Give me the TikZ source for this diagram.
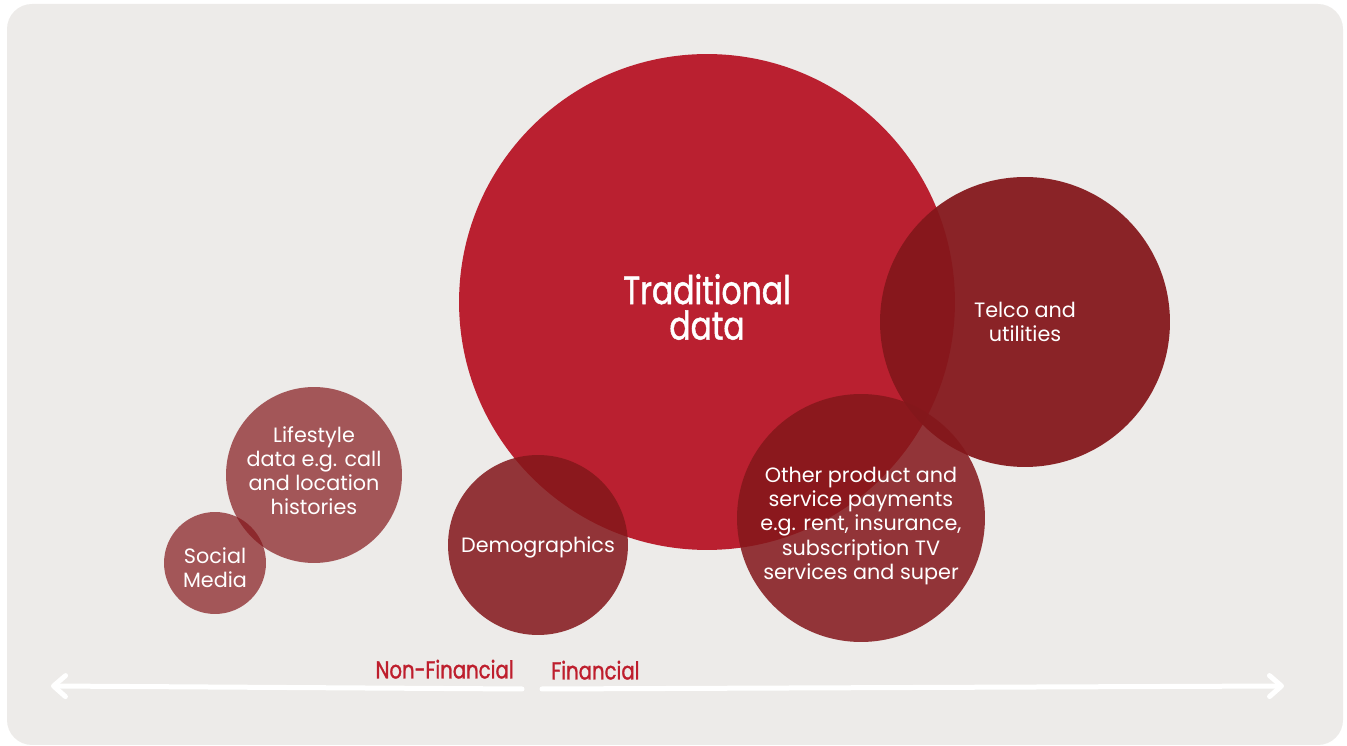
\documentclass[tikz,border=0pt]{standalone}
\usepackage{fontspec}
\setmainfont{Poppins}
\newfontfamily\handfont[FakeStretch=0.8, FakeBold=1.2]{Poppins}
\usetikzlibrary{positioning,arrows.meta}
\definecolor{panelgrey}{HTML}{EDEBE9}
\definecolor{tradred}{HTML}{BA2030}
\definecolor{darkred}{HTML}{84171B}
\definecolor{labelred}{HTML}{BE1E2D}

\begin{document}
\begin{tikzpicture}[
		x=0.02cm, y=-0.02cm,
		bubble/.style={circle, inner sep=0pt, fill=darkred, fill opacity=0.86},
		pale/.style={bubble, fill opacity=0.7},
		caption/.style={inner sep=0pt, text=white, align=center, font=\fontsize{11.8}{13.7}\selectfont},
		axis/.style={white, line width=0.1cm, line cap=round, -{Straight Barb[round, length=0.24cm, width=0.42cm]}},
		side/.style={inner sep=0pt, text=labelred, font=\handfont\fontsize{14}{16}\selectfont},
	]
		\useasboundingbox (0,0) rectangle (1347,746);
		\fill[panelgrey, rounded corners=0.5cm] (7,4) rectangle (1343,745);

		\node (trad) [bubble, fill=tradred, fill opacity=1, minimum size=9.92cm] at (707,302) {};
		\node (telco) [bubble, fill opacity=0.94, minimum size=5.8cm] at (1025,322) {};
		\node (other) [bubble, minimum size=4.96cm] at (861,518) {};
		\node (demo) [bubble, minimum size=3.6cm] at (538,545) {};
		\node (life) [pale, minimum size=3.52cm] at (314,475) {};
		\node (social) [pale, minimum size=2.04cm] at (215,563) {};

		\node (tradtext) [caption, font=\handfont\fontsize{22.4}{20.2}\selectfont] at ([yshift=-0.1cm]trad) {Traditional\\data};
		\node (telcotext) [caption] at (telco) {Telco and\\utilities};
		\node (othertext) [caption] at ([yshift=-0.16cm]other) {Other product and\\service payments\\e.g. rent, insurance,\\subscription TV\\services and super};
		\node (demotext) [caption] at ([yshift=-0.04cm]demo) {Demographics};
		\node (lifetext) [caption] at ([yshift=0.08cm]life) {Lifestyle\\data e.g. call\\and location\\histories};
		\node (socialtext) [caption] at ([yshift=-0.1cm]social) {Social\\Media};

		\coordinate (left) at (51,686);
		\coordinate (nfend) at (522,689);
		\coordinate (fstart) at (542,689);
		\coordinate (right) at (1284,686);

		\draw[axis] (nfend) -- (left);
		\draw[axis] (fstart) -- (right);

		\node (nonfin) [side, above left=0.2cm and 0.16cm of nfend] {Non-Financial};
		\node (fin) [side, above right=0.18cm and 0.18cm of fstart] {Financial};
	\end{tikzpicture}
\end{document}
